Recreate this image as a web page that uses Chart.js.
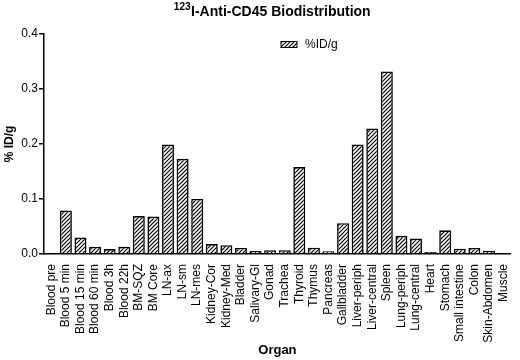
<!DOCTYPE html>
<html>
<head>
<meta charset="utf-8">
<script src="https://cdn.jsdelivr.net/npm/chart.js@4.4.0/dist/chart.umd.min.js"></script>
<style>
  html, body { margin: 0; padding: 0; background: #fff; }
</style>
</head>
<body>
<canvas id="bioChart" width="520" height="360"></canvas>
<script>
// data
const organs = [
  'Blood pre', 'Blood 5 min', 'Blood 15 min', 'Blood 60 min', 'Blood 3h', 'Blood 22h',
  'BM-SQZ', 'BM Core', 'LN-ax', 'LN-sm', 'LN-mes', 'Kidney-Cor', 'Kidney-Med',
  'Bladder', 'Salivary-Gl', 'Gonad', 'Trachea', 'Thyroid', 'Thymus', 'Pancreas',
  'Gallbladder', 'Liver-periph', 'Liver-central', 'Spleen', 'Lung-periph',
  'Lung-central', 'Heart', 'Stomach', 'Small intestine', 'Colon', 'Skin-Abdomen', 'Muscle'
];
const idPerGram = [
  0, 0.079, 0.030, 0.013, 0.009, 0.013,
  0.069, 0.068, 0.199, 0.173, 0.100, 0.018, 0.016,
  0.011, 0.0055, 0.007, 0.007, 0.158, 0.0115, 0.005,
  0.056, 0.199, 0.228, 0.332, 0.033,
  0.028, 0.0036, 0.043, 0.0096, 0.011, 0.006, 0.001
];
const yTicks = [0, 0.1, 0.2, 0.3, 0.4];
const seriesName = '%ID/g';
const titleSup = '123';
const titleMain = 'I-Anti-CD45 Biodistribution';

const FONT = '"Liberation Sans", Arial, sans-serif';

// hatch fill (///)
function makeHatch(ctx) {
  const c = document.createElement('canvas');
  c.width = 4; c.height = 4;
  const g = c.getContext('2d');
  g.fillStyle = '#fff';
  g.fillRect(0, 0, 4, 4);
  g.strokeStyle = '#000';
  g.lineWidth = 1.2;
  g.beginPath();
  g.moveTo(-1, 5); g.lineTo(5, -1);
  g.moveTo(-1, 1); g.lineTo(1, -1);
  g.moveTo(3, 5); g.lineTo(5, 3);
  g.stroke();
  return ctx.createPattern(c, 'repeat');
}

const canvas = document.getElementById('bioChart');
const hatch = makeHatch(canvas.getContext('2d'));

// title with superscript + legend drawn in the plot
const extrasPlugin = {
  id: 'extras',
  afterDraw(chart) {
    const ctx = chart.ctx;
    ctx.save();
    ctx.fillStyle = '#000';
    ctx.textBaseline = 'alphabetic';
    ctx.textAlign = 'left';

    ctx.font = 'bold 10px ' + FONT;
    const supW = ctx.measureText(titleSup).width;
    ctx.font = 'bold 14px ' + FONT;
    const mainW = ctx.measureText(titleMain).width;
    const x0 = 272 - (supW + mainW) / 2;
    ctx.font = 'bold 10px ' + FONT;
    ctx.fillText(titleSup, x0, 10);
    ctx.font = 'bold 14px ' + FONT;
    ctx.fillText(titleMain, x0 + supW + 0.5, 16);

    // legend
    const ds = chart.data.datasets[0];
    ctx.fillStyle = ds.backgroundColor;
    ctx.fillRect(281, 41.5, 16, 6);
    ctx.strokeStyle = '#000';
    ctx.lineWidth = 1;
    ctx.strokeRect(281, 41.5, 16, 6);
    ctx.fillStyle = '#000';
    ctx.font = '12px ' + FONT;
    ctx.textBaseline = 'middle';
    ctx.fillText(ds.label, 305, 45);
    ctx.restore();
  }
};

new Chart(canvas, {
  type: 'bar',
  data: {
    labels: organs,
    datasets: [{
      label: seriesName,
      data: idPerGram,
      backgroundColor: hatch,
      borderColor: '#000',
      borderWidth: 1.6,
      barPercentage: 0.82,
      categoryPercentage: 1.0
    }]
  },
  options: {
    responsive: false,
    animation: false,
    layout: { padding: { left: 2, right: 3, top: 34, bottom: 2 } },
    plugins: {
      legend: { display: false },
      title: { display: false },
      tooltip: { enabled: false }
    },
    scales: {
      x: {
        grid: { display: false },
        border: { display: true, color: '#000', width: 1.5 },
        ticks: {
          color: '#000',
          font: { family: FONT, size: 12 },
          minRotation: 90,
          maxRotation: 90,
          autoSkip: false,
          padding: 2
        },
        title: {
          display: true,
          text: 'Organ',
          color: '#000',
          font: { family: FONT, size: 13, weight: 'bold' },
          padding: 0
        },
        afterFit(scale) { scale.height = 104; }
      },
      y: {
        min: 0,
        max: 0.4,
        afterBuildTicks(scale) { scale.ticks = yTicks.map(v => ({ value: v })); },
        grid: { display: true, drawOnChartArea: false, drawTicks: true, tickLength: 5, color: '#000', lineWidth: 1.5 },
        border: { display: true, color: '#000', width: 1.5 },
        ticks: {
          color: '#000',
          font: { family: FONT, size: 12 },
          padding: 1,
          callback: v => v.toFixed(1)
        },
        title: {
          display: true,
          text: '% ID/g',
          color: '#000',
          font: { family: FONT, size: 12, weight: 'bold' },
          padding: 0
        },
        afterFit(scale) { scale.width = 42; }
      }
    }
  },
  plugins: [extrasPlugin]
});
</script>
</body>
</html>
